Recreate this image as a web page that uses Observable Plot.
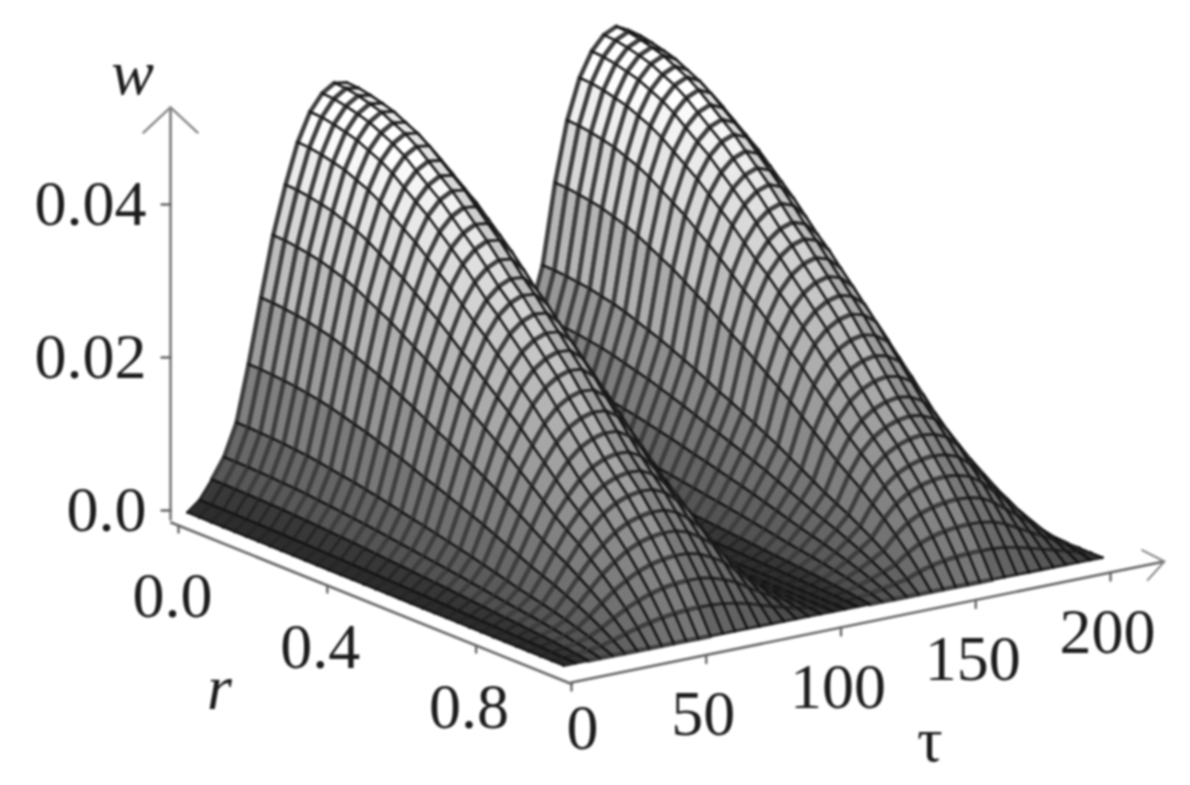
<!DOCTYPE html>
<html><head><meta charset="utf-8">
<script src="https://cdn.jsdelivr.net/npm/d3@7"></script>
<script src="https://cdn.jsdelivr.net/npm/@observablehq/plot@0.6"></script>
<style>html,body{margin:0;padding:0;background:#fff}svg{display:block;filter:blur(.9px)}</style>
</head><body><div id="c"></div>
<script>
const tauNodes = [0,4.5,9.1,13.6,18.2,22.7,27.3,31.8,36.4,40.9,45.5,50,54.5,59.1,63.6,68.2,72.7,77.3,81.8,86.4,90.9,95.5,100,104.5,109.1,113.6,118.2,122.7,127.3,131.8,136.4,140.9,145.5,150,154.5,159.1,163.6,168.2,172.7,177.3,181.8,186.4,190.9,195.5,200];
const tauProfile = [0,.025,.07,.12,.2,.34,.5,.65,.77,.87,.94,.98,1,.995,.95,.86,.75,.58,.42,.27,.15,.06,.015,.01,.03,.07,.14,.23,.33,.44,.64,.79,.89,.95,.985,1,.985,.94,.84,.7,.56,.42,.27,.12,0];
const rNodes = [0,.031,.063,.094,.125,.156,.188,.219,.25,.281,.313,.344,.375,.406,.438,.469,.5,.531,.563,.594,.625,.656,.688,.719,.75,.781,.813,.844,.875,.906,.938,.969,1];
const rProfile = [1,.998,.992,.984,.975,.96,.945,.925,.90,.875,.85,.82,.79,.76,.725,.69,.66,.625,.59,.555,.52,.48,.44,.40,.36,.325,.29,.25,.21,.165,.115,.06,0];
const wPeak = 0.0523;
const wTicks = [0,0.02,0.04], wLabels = ["0.0","0.02","0.04"];
const rTicks = [0,0.4,0.8], rLabels = ["0.0","0.4","0.8"];
const tauTicks = [0,50,100,150,200], tauLabels = ["0","50","100","150","200"];

// oblique view of (r, tau, w) on the page plane
const view = {x0:187, y0:512, xr:376, yr:153, xt:2.695, yt:-.54, yw:-7650};
const px = (r,t) => view.x0 + view.xr*r + view.xt*t;
const py = (r,t,w) => view.y0 + view.yr*r + view.yt*t + view.yw*w;
const W = (i,j) => wPeak*rProfile[i]*tauProfile[j];

const grey = g => { const v = Math.round(Math.max(0,Math.min(255,g))); return `rgb(${v},${v},${v})`; };
const rows = [];
for (let i = 0; i < rNodes.length-1; i++) {
  for (let j = tauNodes.length-2; j >= 0; j--) {
    const corners = [[i,j],[i+1,j],[i+1,j+1],[i,j+1]].map(([a,b]) => ({x:px(rNodes[a],tauNodes[b]), y:py(rNodes[a],tauNodes[b],W(a,b)), w:W(a,b)}));
    const h = d3.mean(corners,c=>c.w)/wPeak;
    const T = (tauProfile[j]+tauProfile[j+1])/2;
    const rising = tauProfile[j+1] > tauProfile[j] && T > .05;
    const g = (rising ? 50 : 32) + 65*Math.pow(T,.4) + (rising ? 155 : 140)*Math.pow(h,1.05);
    const rW = rising ? 4.4 : 2.9, rC = rising ? "rgb(62,62,62)" : "rgb(38,38,38)";
    const id = `${i}-${j}`;
    const push = (kind, pts, fill, stroke, sw) => pts.forEach(c => rows.push({z:id+kind, x:c.x, y:c.y, fill, stroke, sw}));
    push("f", corners, grey(g), "none", 0);
    push("r", [corners[0],corners[3]], "none", rC, rW);      // const r
    push("r2", [corners[1],corners[2]], "none", rC, rW);
    push("t", [corners[2],corners[3]], "none", "rgb(18,18,18)", 2.3);      // const tau
    push("t2", [corners[0],corners[1]], "none", "rgb(18,18,18)", 2.3);
  }
}

// axes, set a little in front of the surface
const wAxisX = 170, wAxisY0 = 510;
const wy = w => wAxisY0 + view.yw*w;
const rx = r => 178+372*r, ry = r => 525+150*r;
const tx = t => 571+2.695*t, ty = t => 682-.55*t;
const wTop = .0527, rStart = -.022, rEnd = 1.06, tauEnd = 220;
const wRows = wTicks.map((v,i)=>({x:wAxisX,y:wy(v),t:wLabels[i]}));
const rRows = rTicks.map((v,i)=>({x:rx(v),y:ry(v),t:rLabels[i]}));
const tRows = tauTicks.map((v,i)=>({x:tx(v),y:ty(v),t:tauLabels[i]}));
const stem = {draw(ctx,l){ctx.moveTo(0,0);ctx.lineTo(0,-l);}};
const serif = "Liberation Serif";
const textBase = {fontFamily:serif, fontSize:64, fill:"#1c1c1c", text:"t", x:"x", y:"y"};

const chart = Plot.plot({
  width:1190, height:785, margin:0,
  x:{domain:[0,1190],range:[0,1190],axis:null},
  y:{domain:[0,785],range:[0,785],axis:null},
  color:{type:"identity"},
  marks:[
    Plot.link([{a:wAxisX,b:wy(0)+10,c:wAxisX,d:wy(wTop)}],{x1:"a",y1:"b",x2:"c",y2:"d",stroke:"#888",strokeWidth:3}),
    Plot.link([{a:rx(rStart),b:ry(rStart),c:rx(rEnd),d:ry(rEnd)}],{x1:"a",y1:"b",x2:"c",y2:"d",stroke:"#666",strokeWidth:2.6}),
    Plot.link([{a:tx(0),b:ty(0),c:tx(tauEnd),d:ty(tauEnd)}],{x1:"a",y1:"b",x2:"c",y2:"d",stroke:"#666",strokeWidth:2.6}),
    Plot.vector(wRows,{x:"x",y:"y",length:9,rotate:-90,anchor:"start",shape:stem,stroke:"#666",strokeWidth:2.4}),
    Plot.vector(rRows,{x:"x",y:"y",length:7,rotate:180,anchor:"start",shape:stem,stroke:"#666",strokeWidth:2.4}),
    Plot.vector(tRows,{x:"x",y:"y",length:8,rotate:180,anchor:"start",shape:stem,stroke:"#666",strokeWidth:2.4}),
    Plot.vector([{x:wAxisX,y:wy(wTop)}],{x:"x",y:"y",length:37,rotate:-133,anchor:"start",shape:stem,stroke:"#888",strokeWidth:2.4}),
    Plot.vector([{x:wAxisX,y:wy(wTop)}],{x:"x",y:"y",length:37,rotate:133,anchor:"start",shape:stem,stroke:"#888",strokeWidth:2.4}),
    Plot.vector([{x:tx(tauEnd),y:ty(tauEnd)}],{x:"x",y:"y",length:25,rotate:-63,anchor:"start",shape:stem,stroke:"#888",strokeWidth:2}),
    Plot.vector([{x:tx(tauEnd),y:ty(tauEnd)}],{x:"x",y:"y",length:25,rotate:-138,anchor:"start",shape:stem,stroke:"#888",strokeWidth:2}),
    Plot.line(rows,{x:"x",y:"y",z:"z",fill:"fill",stroke:"stroke",strokeWidth:"sw",curve:"linear",strokeLinejoin:"round"}),
    Plot.text(wRows,{...textBase,textAnchor:"end",dx:-24,dy:0}),
    Plot.text(rRows.slice(0,1),{...textBase,dx:-6,dy:71}),
    Plot.text(rRows.slice(1),{...textBase,dx:-7,dy:62}),
    Plot.text(tRows.slice(1),{...textBase,dx:-3,dy:60}),
    Plot.text(tRows.slice(0,1),{...textBase,dx:11,dy:46}),
    Plot.text([{x:rx(0.11),y:ry(0.95),t:"r"}],{...textBase,fontStyle:"italic",dx:0,dy:21}),
    Plot.text([{x:tx(130),y:ty(130),t:"τ"}],{...textBase,dx:8,dy:130}),
    Plot.text([{x:wAxisX,y:wy(wTop),t:"w"}],{...textBase,fontStyle:"italic",dx:-38,dy:-34})
  ]
});
document.getElementById("c").appendChild(chart);
</script></body></html>
